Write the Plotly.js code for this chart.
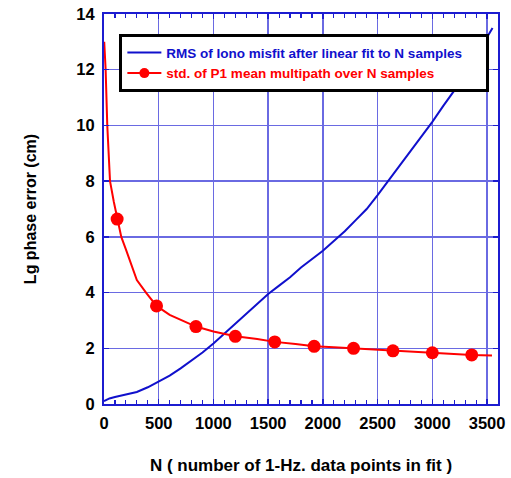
<!DOCTYPE html>
<html>
<head>
<meta charset="utf-8">
<script src="https://cdn.plot.ly/plotly-3.0.1.min.js"></script>
<style>
html,body{margin:0;padding:0;background:#fff;}
#plot{width:511px;height:478px;}
#plot .legend .traces{opacity:1 !important;}
</style>
</head>
<body>
<div id="plot"></div>
<script>
// Blue series: RMS of Iono misfit after linear fit to N samples
var ionoN =   [0, 50, 100, 200, 300, 400, 500, 600, 700, 800, 900, 1000, 1100, 1200, 1300, 1400, 1500, 1600, 1700, 1800, 1900, 2000, 2100, 2200, 2300, 2400, 2500, 2600, 2700, 2800, 2900, 3000, 3100, 3200, 3300, 3400, 3500, 3550];
var ionoRMS = [0.1, 0.2, 0.25, 0.33, 0.43, 0.6, 0.8, 1.02, 1.28, 1.55, 1.85, 2.17, 2.52, 2.9, 3.25, 3.6, 3.95, 4.25, 4.55, 4.9, 5.2, 5.5, 5.85, 6.2, 6.6, 7.0, 7.5, 8.02, 8.55, 9.05, 9.58, 10.13, 10.7, 11.25, 11.85, 12.5, 13.15, 13.5];

// Red series: std. of P1 mean multipath over N samples
var mpN =   [2, 15, 30, 55, 90, 120, 158, 200, 267, 300, 389, 480, 600, 720, 840, 1000, 1200, 1400, 1560, 1750, 1920, 2100, 2280, 2460, 2640, 2820, 3000, 3180, 3360, 3545];
var mpStd = [13.0, 12.0, 10.0, 8.0, 7.25, 6.64, 6.0, 5.55, 4.85, 4.45, 3.97, 3.52, 3.2, 2.98, 2.78, 2.6, 2.43, 2.33, 2.23, 2.15, 2.07, 2.04, 2.0, 1.96, 1.91, 1.87, 1.84, 1.8, 1.76, 1.74];
// N values where the red series has plotted symbols
var mpMarkerN = [120, 480, 840, 1200, 1560, 1920, 2280, 2640, 3000, 3360];

var seriesNames = ['RMS of Iono misfit after linear fit to N samples', 'std. of P1 mean multipath over N samples'];
var xTitle = 'N ( number of 1-Hz. data points in fit )';
var yTitle = 'Lg phase error (cm)';

var BLUE = '#1010cc';
var RED = '#ff0000';
var FRAME = '#1c1cd0';
var GRID = '#6a6ae2';
var FONT = 'Liberation Sans, Arial, Helvetica, sans-serif';
var PAD = '&nbsp;&nbsp;&nbsp;&nbsp;&nbsp;';

var mkX = [], mkY = [];
mpN.forEach(function (n, i) {
  if (mpMarkerN.indexOf(n) >= 0) { mkX.push(n); mkY.push(mpStd[i]); }
});

var traces = [
  {
    x: ionoN, y: ionoRMS, type: 'scatter', mode: 'lines',
    name: '<span style="color:' + BLUE + '">' + seriesNames[0] + '</span>' + PAD,
    line: {color: BLUE, width: 2}
  },
  {
    x: mpN, y: mpStd, type: 'scatter', mode: 'lines',
    showlegend: false, legendgroup: 'mp',
    line: {color: RED, width: 2}
  },
  {
    x: mkX, y: mkY, type: 'scatter', mode: 'markers',
    showlegend: false, legendgroup: 'mp',
    marker: {color: RED, size: 13, symbol: 'circle', opacity: 1}
  },
  {
    x: mkX, y: mkY, type: 'scatter', mode: 'lines+markers',
    visible: 'legendonly', legendgroup: 'mp',
    name: '<span style="color:' + RED + '">' + seriesNames[1] + '</span>',
    line: {color: RED, width: 2},
    marker: {color: RED, size: 10, symbol: 'circle', opacity: 1}
  }
];

var axisCommon = {
  showline: true, linecolor: FRAME, linewidth: 2, mirror: 'allticks',
  showgrid: true, gridcolor: GRID, gridwidth: 1.5,
  zeroline: false,
  ticks: 'inside', tickcolor: FRAME, tickwidth: 1.5, ticklen: 5,
  tickfont: {family: FONT, size: 16.5, color: '#000', weight: 'bold'}
};

var layout = {
  width: 511, height: 478,
  margin: {l: 104, r: 13, t: 14, b: 74},
  paper_bgcolor: '#fff', plot_bgcolor: '#fff',
  showlegend: true,
  legend: {
    x: 0.039, y: 0.948, xanchor: 'left', yanchor: 'top',
    bgcolor: '#fff', bordercolor: '#000', borderwidth: 3,
    font: {family: FONT, size: 13.5, color: '#000', weight: 'bold'},
    itemwidth: 34, tracegroupgap: 0
  },
  xaxis: Object.assign({}, axisCommon, {
    range: [0, 3600], tickvals: [0, 500, 1000, 1500, 2000, 2500, 3000, 3500],
    ticktext: ['0', '500', '1000', '1500', '2000', '2500', '3000', '3500'],
    minor: {dtick: 100, tick0: 0, ticks: 'inside', ticklen: 4, tickcolor: FRAME, tickwidth: 1.2, showgrid: false},
    ticklabelstandoff: 3,
    title: {text: xTitle, font: {family: FONT, size: 17, color: '#000', weight: 'bold'}, standoff: 28}
  }),
  yaxis: Object.assign({}, axisCommon, {
    range: [0, 14], dtick: 2, tick0: 0,
    ticklabelstandoff: 4,
    title: {text: yTitle, font: {family: FONT, size: 16, color: '#000', weight: 'bold'}, standoff: 36}
  })
};

Plotly.newPlot('plot', traces, layout, {displayModeBar: false, staticPlot: true});
</script>
</body>
</html>
